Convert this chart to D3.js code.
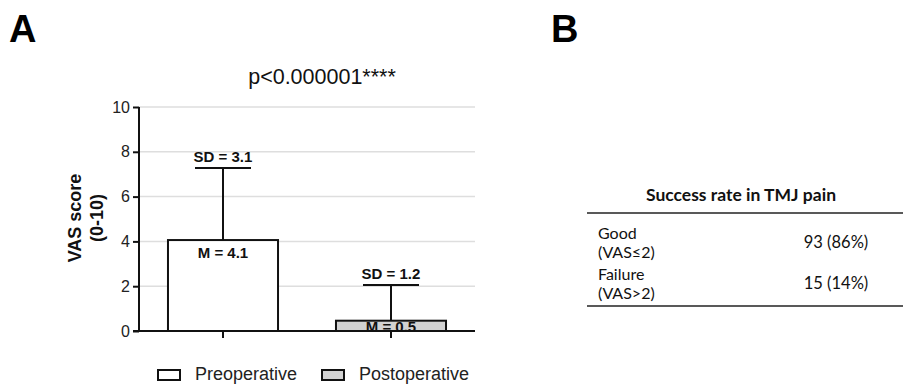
<!DOCTYPE html>
<html>
<head>
<meta charset="utf-8">
<script src="https://cdn.jsdelivr.net/npm/d3@7"></script>
<style>
  html, body { margin: 0; padding: 0; background: #fff; }
  svg { display: block; }
</style>
</head>
<body>
<svg id="chart"></svg>
<script>
// Panel A: VAS score before / after
const groups = ['Preoperative', 'Postoperative'];
const means = [4.06, 0.46];
const errors = [3.22, 1.59];           // drawn error bar length
const meanLabels = ['M = 4.1', 'M = 0.5'];
const sdLabels = ['SD = 3.1', 'SD = 1.2'];
const yTicks = [0, 2, 4, 6, 8, 10];
const pLabel = 'p<0.000001****';

// Panel B: success table
const tableTitle = 'Success rate in TMJ pain';
const outcomes = ['Good', 'Failure'];
const criteria = ['(VAS≤2)', '(VAS>2)'];
const counts = [93, 15];
const percents = [86, 14];

const W = 907, H = 384;
const svg = d3.select('#chart').attr('width', W).attr('height', H);
const arial = "'Liberation Sans', Arial, sans-serif";
const calibri = "Lato, 'Open Sans', sans-serif";

// panel letters
svg.append('text').attr('x', 9).attr('y', 42)
  .attr('font-family', arial).attr('font-weight', 700).attr('font-size', 38)
  .text('A');
svg.append('text').attr('x', 551).attr('y', 42)
  .attr('font-family', arial).attr('font-weight', 700).attr('font-size', 38)
  .text('B');

// ---------- Panel A ----------
const plot = { left: 139, right: 475, top: 107, bottom: 331 };

const y = d3.scaleLinear().domain([0, 10]).range([plot.bottom, plot.top]);
const x = d3.scaleBand().domain(groups)
  .range([plot.left, plot.right])
  .paddingInner(0.345).paddingOuter(0.1725);

// gridlines
svg.append('g')
  .selectAll('line')
  .data(yTicks.filter(d => d > 0))
  .join('line')
  .attr('x1', plot.left).attr('x2', plot.right)
  .attr('y1', d => y(d)).attr('y2', d => y(d))
  .attr('stroke', '#dedede').attr('stroke-width', 1.5);

// y axis
const yAxis = svg.append('g')
  .attr('transform', `translate(${plot.left},0)`)
  .call(d3.axisLeft(y).tickValues(yTicks).tickSize(6).tickPadding(3).tickFormat(d3.format('d')));
yAxis.select('.domain').attr('stroke', '#111').attr('stroke-width', 2)
  .attr('d', `M0,${plot.bottom}V${plot.top}`);
yAxis.selectAll('.tick line').attr('stroke', '#111').attr('stroke-width', 2);
yAxis.selectAll('.tick text')
  .attr('font-family', arial).attr('font-size', 16).attr('fill', '#222');

// x axis
const xAxis = svg.append('g')
  .attr('transform', `translate(0,${plot.bottom})`)
  .call(d3.axisBottom(x).tickSize(7).tickFormat(''));
xAxis.select('.domain').attr('stroke', '#111').attr('stroke-width', 2)
  .attr('d', `M${plot.left - 6},0H${plot.right}`);
xAxis.selectAll('.tick line').attr('stroke', '#111').attr('stroke-width', 2);

const fills = ['#ffffff', '#d2d2d2'];
const data = groups.map((g, i) => ({ g, mean: means[i], err: errors[i], m: meanLabels[i], sd: sdLabels[i], fill: fills[i] }));

const capW = 56;
const bars = svg.append('g').selectAll('g').data(data).join('g');

// error bars (drawn first, bar covers stem inside)
bars.append('line')
  .attr('x1', d => x(d.g) + x.bandwidth() / 2).attr('x2', d => x(d.g) + x.bandwidth() / 2)
  .attr('y1', d => y(d.mean)).attr('y2', d => y(d.mean + d.err))
  .attr('stroke', '#111').attr('stroke-width', 2);
bars.append('line')
  .attr('x1', d => x(d.g) + x.bandwidth() / 2 - capW / 2)
  .attr('x2', d => x(d.g) + x.bandwidth() / 2 + capW / 2)
  .attr('y1', d => y(d.mean + d.err)).attr('y2', d => y(d.mean + d.err))
  .attr('stroke', '#111').attr('stroke-width', 2);

bars.append('rect')
  .attr('x', d => x(d.g)).attr('width', x.bandwidth())
  .attr('y', d => y(d.mean)).attr('height', d => y(0) - y(d.mean))
  .attr('fill', d => d.fill).attr('stroke', '#111').attr('stroke-width', 2);

bars.append('text')
  .attr('x', d => x(d.g) + x.bandwidth() / 2)
  .attr('y', d => y(d.mean + d.err) - 6)
  .attr('text-anchor', 'middle')
  .attr('font-family', arial).attr('font-weight', 700).attr('font-size', 15)
  .attr('fill', '#111')
  .text(d => d.sd);
bars.append('text')
  .attr('x', d => x(d.g) + x.bandwidth() / 2)
  .attr('y', d => Math.min(y(d.mean) + 18, y(0) + 1))
  .attr('text-anchor', 'middle')
  .attr('font-family', arial).attr('font-weight', 700).attr('font-size', 15)
  .attr('fill', '#111')
  .text(d => d.m);

// title
svg.append('text')
  .attr('x', 322).attr('y', 84)
  .attr('text-anchor', 'middle')
  .attr('font-family', arial).attr('font-size', 21.5).attr('fill', '#111')
  .text(pLabel);

// y label
const yl = svg.append('text')
  .attr('transform', `translate(81,218) rotate(-90)`)
  .attr('text-anchor', 'middle')
  .attr('font-family', arial).attr('font-weight', 700).attr('font-size', 18).attr('fill', '#111');
yl.append('tspan').attr('x', 0).attr('y', 0).text('VAS score');
yl.append('tspan').attr('x', 0).attr('y', 22).text('(0-10)');

// legend
const legend = svg.append('g').selectAll('g').data(data).join('g')
  .attr('transform', (d, i) => `translate(${i === 0 ? 158 : 322},370)`);
legend.append('rect')
  .attr('width', 22).attr('height', 10)
  .attr('fill', d => d.fill).attr('stroke', '#111').attr('stroke-width', 2);
legend.append('text')
  .attr('x', 37).attr('y', 10)
  .attr('font-family', arial).attr('font-size', 18).attr('fill', '#222')
  .text(d => d.g);

// ---------- Panel B ----------
const tbl = { left: 587, right: 903, top: 213, bottom: 306, labelX: 598, valueX: 836 };
const rowY = d3.scaleBand().domain(outcomes).range([tbl.top, tbl.bottom - 11]);

svg.append('text')
  .attr('x', 741).attr('y', 201)
  .attr('text-anchor', 'middle')
  .attr('font-family', calibri).attr('font-weight', 700).attr('font-size', 17.5).attr('fill', '#111')
  .text(tableTitle);

svg.append('line')
  .attr('x1', tbl.left).attr('x2', tbl.right)
  .attr('y1', tbl.top).attr('y2', tbl.top)
  .attr('stroke', '#222').attr('stroke-width', 1.5);
svg.append('line')
  .attr('x1', tbl.left).attr('x2', tbl.right)
  .attr('y1', tbl.bottom).attr('y2', tbl.bottom)
  .attr('stroke', '#222').attr('stroke-width', 1.5);

const rows = svg.append('g').selectAll('g').data(outcomes).join('g')
  .attr('transform', d => `translate(0,${rowY(d) + rowY.bandwidth() / 2})`)
  .attr('font-family', calibri).attr('font-size', 16).attr('fill', '#111');
rows.append('text').attr('x', tbl.labelX).attr('y', 5).text(d => d);
rows.append('text').attr('x', tbl.labelX).attr('y', 24).text((d, i) => criteria[i]);
rows.append('text').attr('x', tbl.valueX).attr('y', 14).attr('text-anchor', 'middle')
  .attr('font-size', 16.5)
  .text((d, i) => `${counts[i]} (${percents[i]}%)`);
</script>
</body>
</html>
